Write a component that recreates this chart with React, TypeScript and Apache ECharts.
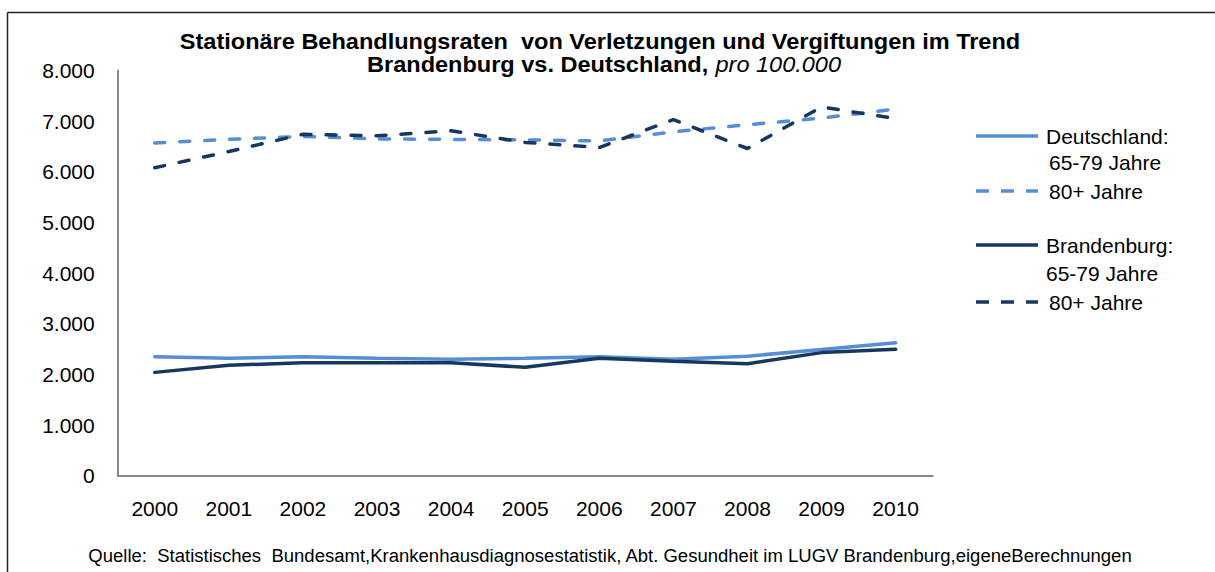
import React, { useEffect, useRef } from "react";
import * as echarts from "echarts";

const years = ["2000", "2001", "2002", "2003", "2004", "2005", "2006", "2007", "2008", "2009", "2010"];
const deu6579 = [2350, 2320, 2350, 2320, 2300, 2320, 2350, 2300, 2360, 2490, 2625];
const deu80 = [6570, 6640, 6700, 6650, 6640, 6630, 6610, 6790, 6930, 7060, 7240];
const bra6579 = [2040, 2180, 2230, 2230, 2230, 2140, 2320, 2260, 2210, 2430, 2495];
const bra80 = [6080, 6400, 6740, 6710, 6810, 6580, 6480, 7030, 6460, 7280, 7050];

const titleLine1 = "Stationäre Behandlungsraten  von Verletzungen und Vergiftungen im Trend";
const titleLine2Bold = "Brandenburg vs. Deutschland,";
const titleLine2Italic = "pro 100.000";
const sourceText =
  "Quelle:  Statistisches  Bundesamt,Krankenhausdiagnosestatistik, Abt. Gesundheit im LUGV Brandenburg,eigeneBerechnungen";

const LIGHT = "#558ED5";
const DARK = "#17375E";
const FONT = "'Liberation Sans', Arial, sans-serif";

function fmt(v: number): string {
  if (v === 0) return "0";
  const th = Math.floor(v / 1000);
  const rest = String(v % 1000).padStart(3, "0");
  return th + "." + rest;
}

export default function App() {
  const ref = useRef<HTMLDivElement>(null);
  useEffect(() => {
    if (!ref.current) return;
    const chart = echarts.init(ref.current, null, { renderer: "svg" });
    const dash = [10, 15];
    const legendItems = [
      { y: 136, color: LIGHT, dashed: false, lines: [{ t: "Deutschland:", x: 1046, y: 136 }, { t: "65-79 Jahre", x: 1049, y: 162 }] },
      { y: 191, color: LIGHT, dashed: true, lines: [{ t: "80+ Jahre", x: 1049, y: 191 }] },
      { y: 245, color: DARK, dashed: false, lines: [{ t: "Brandenburg:", x: 1046, y: 245 }, { t: "65-79 Jahre", x: 1046, y: 273 }] },
      { y: 302, color: DARK, dashed: true, lines: [{ t: "80+ Jahre", x: 1049, y: 302 }] },
    ];
    const graphics: any[] = [
      { type: "line", shape: { x1: 7.5, y1: 12.5, x2: 1215, y2: 12.5 }, style: { stroke: "#222", lineWidth: 1.5 } },
      { type: "line", shape: { x1: 7.5, y1: 12.5, x2: 7.5, y2: 572 }, style: { stroke: "#222", lineWidth: 1.5 } },
      {
        type: "text",
        x: 600,
        y: 41,
        scaleX: 1.07,
        style: { text: titleLine1, font: `bold 22px ${FONT}`, fill: "#000", align: "center", verticalAlign: "middle" },
      },
      {
        type: "text",
        x: 604,
        y: 64,
        scaleX: 1.07,
        style: {
          text: `{b|${titleLine2Bold}}  {i|${titleLine2Italic}}`,
          align: "center",
          verticalAlign: "middle",
          rich: {
            b: { fontFamily: FONT, fontWeight: "bold", fontSize: 22, fill: "#000", color: "#000" },
            i: { fontFamily: FONT, fontStyle: "italic", fontSize: 22, fill: "#000", color: "#000" },
          },
        },
      },
      {
        type: "text",
        x: 610,
        y: 555,
        scaleX: 0.975,
        style: { text: sourceText, font: `19px ${FONT}`, fill: "#000", align: "center", verticalAlign: "middle" },
      },
    ];
    legendItems.forEach((it) => {
      graphics.push({
        type: "line",
        shape: { x1: 976, y1: it.y, x2: 1038, y2: it.y },
        style: { stroke: it.color, lineWidth: 3.5, lineDash: it.dashed ? [13, 12] : null },
      });
      it.lines.forEach((l) => {
        graphics.push({
          type: "text",
          x: l.x,
          y: l.y,
          style: { text: l.t, font: `21px ${FONT}`, fill: "#000", align: "left", verticalAlign: "middle" },
        });
      });
    });

    const mk = (name: string, data: number[], color: string, dashed: boolean) => ({
      name,
      type: "line",
      data,
      symbol: "none",
      lineStyle: { color, width: 3.5, type: dashed ? dash : "solid", cap: "round" },
      itemStyle: { color },
    });

    chart.setOption({
      animation: false,
      backgroundColor: "#fff",
      grid: { left: 117.7, right: 282.3, top: 70.5, bottom: 96.3, containLabel: false },
      xAxis: {
        type: "category",
        data: years,
        boundaryGap: true,
        axisLine: { lineStyle: { color: "#8a8a8a", width: 2 } },
        axisTick: { show: false },
        axisLabel: { color: "#000", fontSize: 21, fontFamily: FONT, margin: 22 },
      },
      yAxis: {
        type: "value",
        min: 0,
        max: 8000,
        interval: 1000,
        axisLine: { show: true, lineStyle: { color: "#8a8a8a", width: 2 } },
        axisTick: { show: false },
        splitLine: { show: false },
        axisLabel: { color: "#000", fontSize: 21, fontFamily: FONT, margin: 23, formatter: (v: number) => fmt(v) },
      },
      series: [
        mk("Deutschland: 65-79 Jahre", deu6579, LIGHT, false),
        mk("Deutschland: 80+ Jahre", deu80, LIGHT, true),
        mk("Brandenburg: 65-79 Jahre", bra6579, DARK, false),
        mk("Brandenburg: 80+ Jahre", bra80, DARK, true),
      ],
      graphic: graphics,
    });
    return () => chart.dispose();
  }, []);
  return (
    <div
      ref={ref}
      style={{ position: "absolute", left: 0, top: 0, width: 1215, height: 572, background: "#fff" }}
    />
  );
}
